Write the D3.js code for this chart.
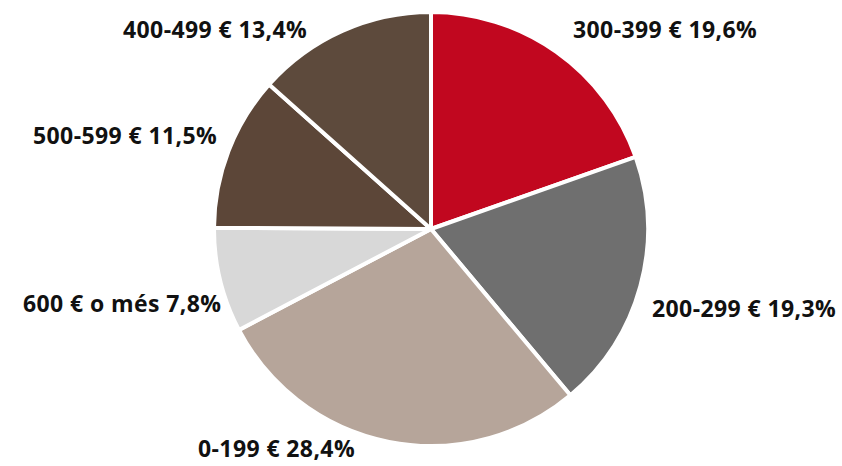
<!DOCTYPE html>
<html>
<head>
<meta charset="utf-8">
<script src="https://cdn.jsdelivr.net/npm/d3@7"></script>
<style>
	html, body { margin: 0; padding: 0; background: #fff; }
	svg text { font-family: "Open Sans", "DejaVu Sans", sans-serif; font-weight: 700; fill: #111; }
</style>
</head>
<body>
<div id="chart"></div>
<script>
// clockwise from 12 o'clock
const categories = ["300-399 €", "200-299 €", "0-199 €", "600 € o més", "500-599 €", "400-499 €"];
const shares = [19.6, 19.3, 28.4, 7.8, 11.5, 13.4];
const shareLabels = ["19,6%", "19,3%", "28,4%", "7,8%", "11,5%", "13,4%"];
const colors = ["#c1071f", "#6f6f6f", "#b6a59a", "#d8d8d8", "#5c4638", "#5d4a3c"];

// label anchor (left x, baseline y)
const labelPos = [[573, 38], [652, 317], [198, 457], [23, 312], [33, 144], [123, 38]];

const width = 842, height = 466;
const cx = 431, cy = 229, radius = 217;

const data = categories.map((c, i) => ({ cat: c, value: shares[i], label: shareLabels[i], color: colors[i], pos: labelPos[i] }));

const svg = d3.select("#chart").append("svg")
	.attr("width", width)
	.attr("height", height);

const pie = d3.pie()
	.sort(null)
	.value(d => d.value);

const arc = d3.arc()
	.innerRadius(0)
	.outerRadius(radius);

const g = svg.append("g")
	.attr("transform", `translate(${cx},${cy})`);

g.selectAll("path")
	.data(pie(data))
	.join("path")
	.attr("d", arc)
	.attr("fill", d => d.data.color)
	.attr("stroke", "#fff")
	.attr("stroke-width", 4)
	.attr("stroke-linejoin", "round");

svg.selectAll("text.lbl")
	.data(data)
	.join("text")
	.attr("class", "lbl")
	.attr("x", d => d.pos[0])
	.attr("y", d => d.pos[1])
	.attr("font-size", 23)
	.attr("letter-spacing", 0.4)
	.text(d => `${d.cat} ${d.label}`);
</script>
</body>
</html>
